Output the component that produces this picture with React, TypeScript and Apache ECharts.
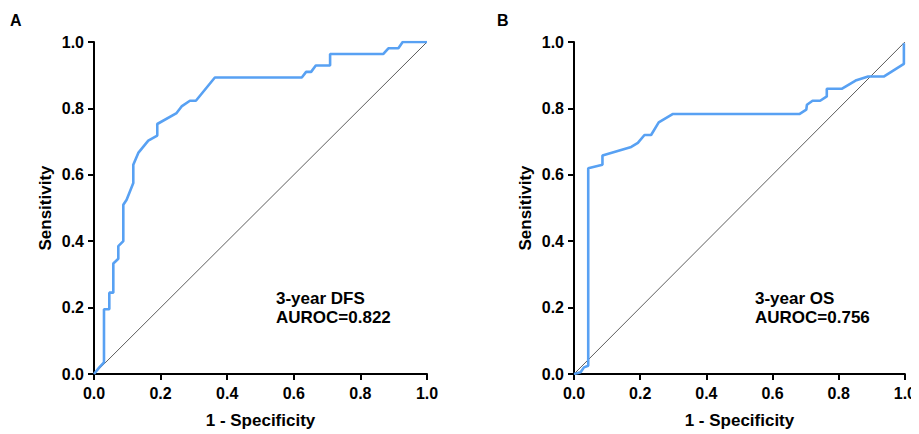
import React, { useEffect, useRef } from "react";
import * as echarts from "echarts";

// ROC curve for 3-year DFS (1 - specificity, sensitivity)
const dfsFpr = [0, 0.016, 0.03, 0.03, 0.046, 0.046, 0.058, 0.058, 0.073, 0.073, 0.088, 0.088, 0.098, 0.118, 0.118, 0.133, 0.163, 0.19, 0.19, 0.248, 0.263, 0.288, 0.306, 0.363, 0.624, 0.637, 0.652, 0.666, 0.709, 0.709, 0.869, 0.884, 0.914, 0.927, 1.0];
const dfsTpr = [0, 0.02, 0.035, 0.195, 0.195, 0.245, 0.245, 0.333, 0.347, 0.385, 0.4, 0.51, 0.525, 0.575, 0.63, 0.666, 0.703, 0.718, 0.753, 0.786, 0.806, 0.823, 0.823, 0.893, 0.893, 0.91, 0.91, 0.929, 0.929, 0.964, 0.964, 0.981, 0.981, 1.0, 1.0];

// ROC curve for 3-year OS
const osFpr = [0, 0.02, 0.03, 0.043, 0.043, 0.086, 0.086, 0.173, 0.193, 0.213, 0.233, 0.256, 0.298, 0.681, 0.702, 0.704, 0.721, 0.744, 0.764, 0.764, 0.809, 0.851, 0.889, 0.936, 0.997, 0.997];
const osTpr = [0, 0.005, 0.02, 0.025, 0.62, 0.63, 0.658, 0.684, 0.696, 0.72, 0.72, 0.758, 0.783, 0.783, 0.796, 0.811, 0.823, 0.823, 0.836, 0.859, 0.859, 0.884, 0.896, 0.896, 0.934, 0.996];

const tickValues = [0, 0.2, 0.4, 0.6, 0.8, 1.0];
const panelLetters = ["A", "B"];
const panelNotes = ["3-year DFS\nAUROC=0.822", "3-year OS\nAUROC=0.756"];

const FONT = "'Liberation Sans', Arial, Helvetica, sans-serif";
const BLUE = "#58a1f3";

const pairs = (xs: number[], ys: number[]) => xs.map((x, i) => [x, ys[i]]);

const labelStyle = (margin: number) => ({
  fontFamily: FONT,
  fontWeight: "bold",
  fontSize: 16,
  color: "#000",
  margin,
  formatter: (v: number) => v.toFixed(1),
});

const axisCommon = (name: string, gap: number, margin: number) => ({
  type: "value" as const,
  min: 0,
  max: 1,
  interval: 0.2,
  name,
  nameLocation: "middle" as const,
  nameGap: gap,
  nameTextStyle: { fontFamily: FONT, fontWeight: "bold", fontSize: 17, color: "#000" },
  axisLine: { show: true, lineStyle: { color: "#000", width: 2 } },
  axisTick: { show: true, length: 6, lineStyle: { color: "#000", width: 2 } },
  splitLine: { show: false },
  axisLabel: labelStyle(margin),
});

export default function App() {
  const ref = useRef<HTMLDivElement>(null);

  useEffect(() => {
    if (!ref.current) return;
    const chart = echarts.init(ref.current, undefined, { renderer: "svg" });
    // page body has an 8px margin, so the chart's origin sits at (8, 8)
    const lefts = [86, 566];
    const curves = [pairs(dfsFpr, dfsTpr), pairs(osFpr, osTpr)];

    chart.setOption({
      animation: false,
      backgroundColor: "#fff",
      grid: lefts.map((l) => ({ left: l, top: 34, width: 333, height: 333 })),
      xAxis: [0, 1].map((i) => ({ ...axisCommon("1 - Specificity", 38, 11), gridIndex: i })),
      yAxis: [0, 1].map((i) => ({ ...axisCommon("Sensitivity", 40, 10), gridIndex: i })),
      series: [0, 1].flatMap((i) => [
        {
          type: "line",
          xAxisIndex: i,
          yAxisIndex: i,
          data: [
            [tickValues[0], tickValues[0]],
            [tickValues[5], tickValues[5]],
          ],
          symbol: "none",
          lineStyle: { color: "#333", width: 0.8 },
          silent: true,
          z: 1,
        },
        {
          type: "line",
          xAxisIndex: i,
          yAxisIndex: i,
          data: curves[i],
          symbol: "none",
          lineStyle: { color: BLUE, width: 2.6 },
          silent: true,
          z: 2,
        },
      ]),
      graphic: [
        ...panelLetters.map((t, i) => ({
          type: "text",
          left: [2, 489][i],
          top: 4,
          style: { text: t, fontFamily: FONT, fontWeight: "bold", fontSize: 16, fill: "#000" },
        })),
        ...panelNotes.map((t, i) => ({
          type: "text",
          left: [268, 747][i],
          top: 281,
          style: {
            text: t,
            fontFamily: FONT,
            fontWeight: "bold",
            fontSize: 17,
            lineHeight: 19,
            fill: "#000",
          },
        })),
      ],
    });
    return () => chart.dispose();
  }, []);

  return <div ref={ref} style={{ width: 911, height: 426 }} />;
}
